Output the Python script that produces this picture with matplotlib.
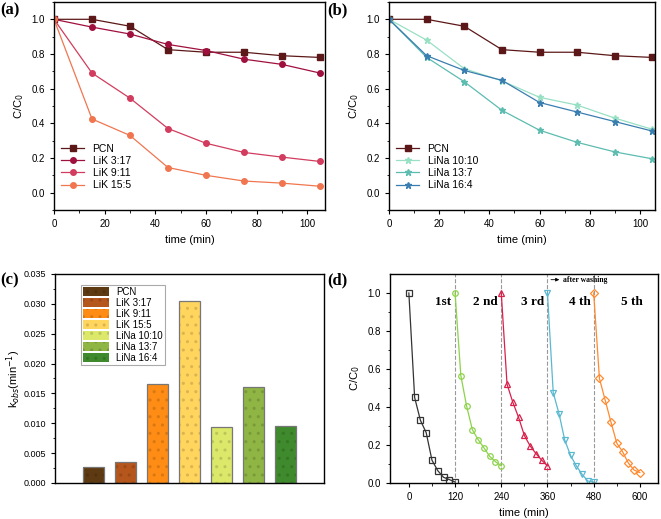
import matplotlib as mpl
mpl.use("Agg")
import matplotlib.pyplot as plt
import numpy as np

# ---- data ----
t = [0, 15, 30, 45, 60, 75, 90, 105]

pcn = [1.0, 1.0, 0.96, 0.825, 0.81, 0.81, 0.79, 0.78]
lik_3_17 = [1.0, 0.955, 0.915, 0.855, 0.82, 0.77, 0.74, 0.69]
lik_9_11 = [1.0, 0.69, 0.545, 0.37, 0.285, 0.232, 0.205, 0.18]
lik_15_5 = [1.0, 0.425, 0.33, 0.145, 0.10, 0.067, 0.055, 0.037]

lina_10_10 = [1.0, 0.88, 0.715, 0.645, 0.55, 0.505, 0.43, 0.365]
lina_13_7 = [1.0, 0.78, 0.64, 0.475, 0.36, 0.29, 0.235, 0.195]
lina_16_4 = [1.0, 0.79, 0.705, 0.648, 0.52, 0.465, 0.41, 0.355]

bar_names = ["PCN", "LiK 3:17", "LiK 9:11", "LiK 15:5", "LiNa 10:10", "LiNa 13:7", "LiNa 16:4"]
kobs = [0.0027, 0.0035, 0.0165, 0.0305, 0.0094, 0.0160, 0.0096]
bar_colors = ["#5e3a12", "#b5561c", "#ff8c14", "#ffd55e", "#dbe86a", "#8fb544", "#3f8a2c"]

cyc_t = [0, 15, 30, 45, 60, 75, 90, 105, 120]
cycles = [
    [1.0, 0.45, 0.33, 0.265, 0.12, 0.065, 0.03, 0.018, 0.005],
    [1.0, 0.565, 0.405, 0.28, 0.228, 0.185, 0.14, 0.112, 0.09],
    [1.0, 0.52, 0.425, 0.345, 0.25, 0.195, 0.155, 0.12, 0.09],
    [1.0, 0.475, 0.365, 0.225, 0.145, 0.09, 0.045, 0.01, 0.005],
    [1.0, 0.55, 0.435, 0.32, 0.21, 0.165, 0.105, 0.068, 0.055],
]
cyc_labels = ["1st", "2 nd", "3 rd", "4 th", "5 th"]
cyc_label_x = [88, 200, 322, 444, 579]
cyc_colors = ["#333333", "#8cd24a", "#d8204a", "#5ab8d0", "#ff8a30"]
cyc_markers = ["s", "o", "^", "v", "D"]

plt.rcParams["font.family"] = ["Liberation Sans", "DejaVu Sans"]
plt.rcParams["font.size"] = 7


def style(ax, lsize=7):
    ax.tick_params(which="both", direction="out", labelsize=lsize, length=3)
    ax.tick_params(which="minor", length=1.8)
    for s in ax.spines.values():
        s.set_linewidth(1.0)


def panel_label(fig, x, y, txt):
    fig.text(x, y, txt, fontsize=12, fontweight="bold", family="Liberation Serif",
             ha="left", va="top")


fig = plt.figure(figsize=(6.61, 5.19), dpi=100)

# ---- (a) ----
ax = fig.add_axes([0.0817, 0.5954, 0.41, 0.4008])
series_a = [("PCN", pcn, "#5c1818", "s"),
            ("LiK 3:17", lik_3_17, "#a0103e", "o"),
            ("LiK 9:11", lik_9_11, "#d23c5e", "o"),
            ("LiK 15:5", lik_15_5, "#f07650", "o")]
for name, y, c, m in series_a:
    ax.plot(t, y, color=c, marker=m, ms=4, lw=0.9, label=name)
ax.set_xlim(0, 107)
ax.set_ylim(-0.1, 1.1)
ax.set_xticks(np.arange(0, 101, 20))
ax.set_xticks(np.arange(10, 107, 10), minor=True)
ax.set_yticks(np.arange(0, 1.01, 0.2))
ax.set_yticks(np.arange(-0.1, 1.1, 0.1), minor=True)
ax.set_xlabel("time (min)", fontsize=8)
ax.set_ylabel("C/C$_0$", fontsize=8)
ax.legend(loc="lower left", bbox_to_anchor=(0.0, 0.06), frameon=False, fontsize=7.5,
          handlelength=2.2, labelspacing=0.2, borderpad=0.2)
style(ax)

# ---- (b) ----
ax = fig.add_axes([0.5885, 0.5954, 0.4024, 0.4008])
series_b = [("PCN", pcn, "#5c1818", "s"),
            ("LiNa 10:10", lina_10_10, "#98e0c4", "*"),
            ("LiNa 13:7", lina_13_7, "#5cbcb0", "*"),
            ("LiNa 16:4", lina_16_4, "#3a7db0", "*")]
for name, y, c, m in series_b:
    ax.plot(t, y, color=c, marker=m, ms=5 if m == "*" else 4, lw=0.9, label=name)
ax.set_xlim(0, 106)
ax.set_ylim(-0.1, 1.1)
ax.set_xticks(np.arange(0, 101, 20))
ax.set_xticks(np.arange(10, 106, 10), minor=True)
ax.set_yticks(np.arange(0, 1.01, 0.2))
ax.set_yticks(np.arange(-0.1, 1.1, 0.1), minor=True)
ax.set_xlabel("time (min)", fontsize=8)
ax.set_ylabel("C/C$_0$", fontsize=8)
ax.legend(loc="lower left", bbox_to_anchor=(0.0, 0.06), frameon=False, fontsize=7.5,
          handlelength=2.2, labelspacing=0.2, borderpad=0.2)
style(ax)

# ---- (c) ----
ax = fig.add_axes([0.0832, 0.0694, 0.407, 0.4027])
xpos = np.arange(1, len(kobs) + 1)
dots = [mpl.colors.to_hex(np.array(mpl.colors.to_rgb(c)) * 0.85) for c in bar_colors]
for i in range(len(kobs)):
    ax.bar(xpos[i], kobs[i], width=0.68, color=bar_colors[i], edgecolor=dots[i],
           hatch="..", lw=0, label=bar_names[i])
ax.bar(xpos, kobs, width=0.68, fill=False, edgecolor="#777777", lw=0.9)
ax.set_xlim(-0.2, 8.2)
ax.set_ylim(0, 0.035)
ax.set_xticks([])
ax.set_yticks(np.arange(0, 0.0351, 0.005))
ax.set_yticks(np.arange(0.0025, 0.035, 0.005), minor=True)
ax.yaxis.set_major_formatter(mpl.ticker.FormatStrFormatter("%.3f"))
ax.set_ylabel("k$_{obs}$(min$^{-1}$)", fontsize=8)
ax.yaxis.set_label_coords(-0.12, 0.5)
leg = ax.legend(loc="upper left", bbox_to_anchor=(0.08, 0.97), fontsize=7,
                handlelength=2.6, handleheight=1.1, labelspacing=0.1, borderpad=0.2,
                fancybox=False, edgecolor="#aaaaaa", framealpha=1)
leg.get_frame().set_linewidth(0.8)
style(ax, lsize=6.5)

# ---- (d) ----
ax = fig.add_axes([0.590, 0.0694, 0.4054, 0.4027])
for i, y in enumerate(cycles):
    tt = [v + 120 * i for v in cyc_t]
    ax.plot(tt, y, color=cyc_colors[i], marker=cyc_markers[i], ms=4, lw=0.9,
            mfc="none", mew=0.9)
    ax.text(cyc_label_x[i], 0.95, cyc_labels[i], family="Liberation Serif",
            fontweight="bold", fontsize=9.5, ha="center", va="center")
for xv in [120, 240, 360, 480]:
    ax.axvline(xv, color="#999999", ls="--", lw=0.8, zorder=0)
ax.annotate("", xy=(398, 1.07), xytext=(362, 1.07),
            arrowprops=dict(arrowstyle="-|>", color="black", lw=0.6, mutation_scale=5))
ax.text(400, 1.07, "after washing", family="Liberation Serif", fontweight="bold",
        fontsize=5.5, ha="left", va="center")
ax.set_xlim(-49, 647)
ax.set_ylim(0, 1.1)
ax.set_xticks(np.arange(0, 601, 120))
ax.set_xticks(np.arange(60, 647, 120), minor=True)
ax.set_yticks(np.arange(0, 1.01, 0.2))
ax.set_yticks(np.arange(0.1, 1.1, 0.2), minor=True)
ax.set_xlabel("time (min)", fontsize=8)
ax.set_ylabel("C/C$_0$", fontsize=8)
style(ax)

panel_label(fig, 0.0, 0.995, "(a)")
panel_label(fig, 0.495, 0.995, "(b)")
panel_label(fig, 0.0, 0.475, "(c)")
panel_label(fig, 0.495, 0.475, "(d)")

fig.savefig("out.png", dpi=100)
